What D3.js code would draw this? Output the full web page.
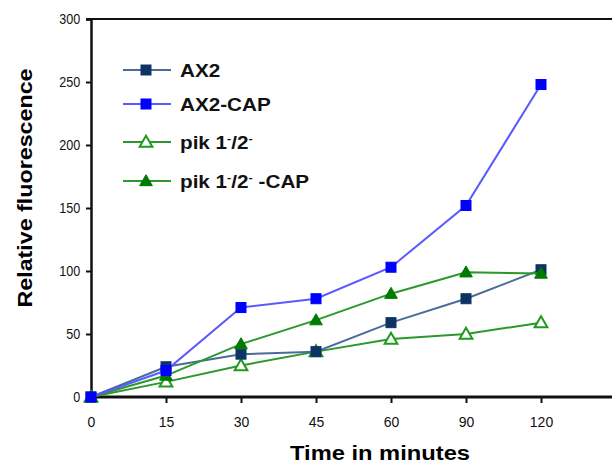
<!DOCTYPE html>
<html><head><meta charset="utf-8">
<script src="https://cdn.jsdelivr.net/npm/d3@7"></script>
<style>body{margin:0;background:#fff}svg{display:block}</style>
</head><body>
<script>
const categories = ["0","15","30","45","60","90","120"];
const ax2 = [0, 24, 34, 36, 59, 78, 101];
const ax2Cap = [0, 21, 71, 78, 103, 152, 248];
const pik = [0, 12, 25, 36, 46, 50, 59];
const pikCap = [0, 17, 42, 61, 82, 99, 98];
const yTicks = [0, 50, 100, 150, 200, 250, 300];

const W = 612, H = 466;
const svg = d3.select("body").append("svg").attr("width", W).attr("height", H);
const font = "Liberation Sans, Arial, sans-serif";

const x = d3.scalePoint().domain(categories).range([91, 541]);
const y = d3.scaleLinear().domain([0, 300]).range([397, 19]);

// top frame line
svg.append("line").attr("x1", 86).attr("x2", W).attr("y1", y(300)).attr("y2", y(300))
  .attr("stroke", "#111").attr("stroke-width", 2);

// y axis
const yAxis = svg.append("g").attr("transform", "translate(91,0)")
  .call(d3.axisLeft(y).tickValues(yTicks).tickSize(5).tickPadding(6));
yAxis.select(".domain").attr("stroke", "#111").attr("stroke-width", 2.5);
yAxis.selectAll(".tick line").attr("stroke", "#111").attr("stroke-width", 2);
yAxis.selectAll("text").attr("font-family", font).attr("font-size", 14).attr("fill", "#111")
  .attr("transform", "scale(0.9,1)").attr("x", -12);

// x axis
const xAxis = svg.append("g").attr("transform", "translate(0,397)")
  .call(d3.axisBottom(x).tickSize(6).tickPadding(14));
xAxis.select(".domain").attr("d", `M91,0H${W}`).attr("stroke", "#111").attr("stroke-width", 3);
xAxis.selectAll(".tick line").attr("stroke", "#111").attr("stroke-width", 2);
xAxis.selectAll("text").attr("font-family", font).attr("font-size", 14).attr("fill", "#111");

// titles
svg.append("text").attr("x", 380).attr("y", 460).attr("text-anchor", "middle")
  .attr("font-family", font).attr("font-weight", "bold").attr("font-size", 20)
  .attr("textLength", 180).attr("lengthAdjust", "spacingAndGlyphs").text("Time in minutes");
svg.append("text").attr("transform", "translate(32,188) rotate(-90)").attr("text-anchor", "middle")
  .attr("font-family", font).attr("font-weight", "bold").attr("font-size", 20)
  .attr("textLength", 239).attr("lengthAdjust", "spacingAndGlyphs").text("Relative fluorescence");

const styles = [
  {data: ax2, line: "#4a6c98", fill: "#0d3464", stroke: "#0d3464", shape: "square"},
  {data: ax2Cap, line: "#5a5aff", fill: "#0000ff", stroke: "#0000ff", shape: "square"},
  {data: pik, line: "#2a982a", fill: "#fff", stroke: "#1f9a1f", shape: "triangle"},
  {data: pikCap, line: "#2a982a", fill: "#007a00", stroke: "#007a00", shape: "triangle"}
];

const lineGen = d3.line().x((d, i) => x(categories[i])).y(d => y(d));

function marker(g, s, cx, cy) {
  if (s.shape === "square") {
    g.append("rect").attr("x", cx - 5).attr("y", cy - 5).attr("width", 10).attr("height", 10)
      .attr("fill", s.fill).attr("stroke", s.stroke).attr("stroke-width", 1);
  } else {
    const sym = d3.symbol().type(d3.symbolTriangle).size(70);
    g.append("path").attr("d", sym()).attr("transform", `translate(${cx},${cy + 1})`)
      .attr("fill", s.fill).attr("stroke", s.stroke).attr("stroke-width", s.fill === "#fff" ? 2 : 1);
  }
}

[2, 0, 3, 1].forEach(k => {
  const s = styles[k];
  const g = svg.append("g");
  g.append("path").attr("d", lineGen(s.data)).attr("fill", "none").attr("stroke", s.line).attr("stroke-width", 2);
  s.data.forEach((v, i) => marker(g, s, x(categories[i]), y(v)));
});

// legend
const legY = [70, 104, 142, 181];
const legW = [56, 95, 90, 132];
const leg = svg.append("g");
styles.forEach((s, k) => {
  const ly = legY[k];
  leg.append("line").attr("x1", 123).attr("x2", 171).attr("y1", ly).attr("y2", ly)
    .attr("stroke", s.line).attr("stroke-width", 2);
  marker(leg, s, 146, ly);
});
function legText(k, parts) {
  const ly = legY[k];
  const t = leg.append("text").attr("x", 180).attr("y", ly + 7).attr("font-family", font)
    .attr("font-weight", "bold").attr("font-size", 18).attr("fill", "#111")
    .attr("transform", `translate(180,0) scale(1.15,1) translate(-180,0)`);
  parts.forEach(p => {
    const ts = t.append("tspan").text(p[0]);
    if (p[1]) ts.attr("font-size", 11).attr("dy", -7);
    if (p[2]) ts.attr("dy", 7);
  });
}
legText(0, [["AX2"]]);
legText(1, [["AX2-CAP"]]);
legText(2, [["pik 1"], ["-", true], ["/2", false, true], ["-", true]]);
legText(3, [["pik 1"], ["-", true], ["/2", false, true], ["-", true], [" -CAP", false, true]]);
</script>
</body></html>
